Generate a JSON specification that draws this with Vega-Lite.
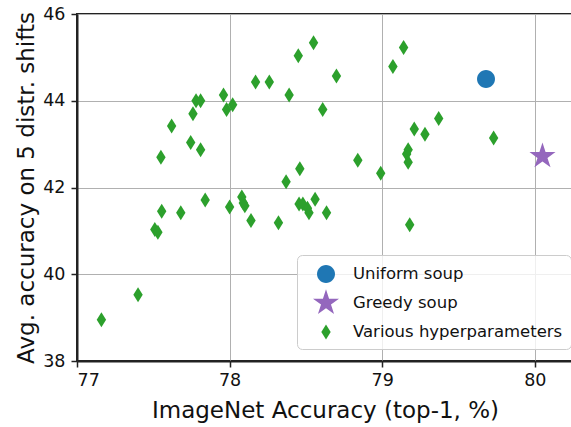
{
  "$schema": "https://vega.github.io/schema/vega-lite/v6.json",
  "width": 496,
  "height": 347,
  "autosize": {"type": "none"},
  "padding": {"left": 77, "top": 14, "right": 0, "bottom": 66},
  "config": {
    "view": {"stroke": "#222222", "strokeWidth": 2},
    "font": "DejaVu Sans",
    "axis": {
      "gridColor": "#b0b0b0",
      "gridWidth": 1,
      "domainColor": "#222222",
      "domainWidth": 2,
      "tickColor": "#222222",
      "tickSize": 6,
      "tickWidth": 1.5,
      "labelFontSize": 17.5,
      "labelColor": "#111111",
      "titleFontSize": 23,
      "titleFontWeight": "normal",
      "titleColor": "#111111"
    }
  },
  "data": {
    "values": [
      {"x": 77.16, "y": 38.95, "series": "Various hyperparameters"},
      {"x": 77.40, "y": 39.53, "series": "Various hyperparameters"},
      {"x": 77.51, "y": 41.03, "series": "Various hyperparameters"},
      {"x": 77.53, "y": 40.97, "series": "Various hyperparameters"},
      {"x": 77.555, "y": 41.45, "series": "Various hyperparameters"},
      {"x": 77.68, "y": 41.42, "series": "Various hyperparameters"},
      {"x": 77.84, "y": 41.71, "series": "Various hyperparameters"},
      {"x": 78.0, "y": 41.55, "series": "Various hyperparameters"},
      {"x": 78.08, "y": 41.78, "series": "Various hyperparameters"},
      {"x": 78.09, "y": 41.64, "series": "Various hyperparameters"},
      {"x": 78.10, "y": 41.58, "series": "Various hyperparameters"},
      {"x": 78.14, "y": 41.24, "series": "Various hyperparameters"},
      {"x": 78.32, "y": 41.19, "series": "Various hyperparameters"},
      {"x": 78.37, "y": 42.13, "series": "Various hyperparameters"},
      {"x": 78.46, "y": 42.43, "series": "Various hyperparameters"},
      {"x": 78.455, "y": 41.62, "series": "Various hyperparameters"},
      {"x": 78.48, "y": 41.62, "series": "Various hyperparameters"},
      {"x": 78.51, "y": 41.52, "series": "Various hyperparameters"},
      {"x": 78.52, "y": 41.42, "series": "Various hyperparameters"},
      {"x": 78.56, "y": 41.73, "series": "Various hyperparameters"},
      {"x": 78.635, "y": 41.42, "series": "Various hyperparameters"},
      {"x": 78.99, "y": 42.33, "series": "Various hyperparameters"},
      {"x": 79.18, "y": 41.14, "series": "Various hyperparameters"},
      {"x": 78.45, "y": 45.04, "series": "Various hyperparameters"},
      {"x": 78.55, "y": 45.34, "series": "Various hyperparameters"},
      {"x": 78.70, "y": 44.57, "series": "Various hyperparameters"},
      {"x": 78.61, "y": 43.80, "series": "Various hyperparameters"},
      {"x": 78.84, "y": 42.63, "series": "Various hyperparameters"},
      {"x": 79.14, "y": 45.23, "series": "Various hyperparameters"},
      {"x": 79.07, "y": 44.79, "series": "Various hyperparameters"},
      {"x": 79.21, "y": 43.35, "series": "Various hyperparameters"},
      {"x": 79.28, "y": 43.23, "series": "Various hyperparameters"},
      {"x": 79.37, "y": 43.59, "series": "Various hyperparameters"},
      {"x": 79.17, "y": 42.87, "series": "Various hyperparameters"},
      {"x": 79.16, "y": 42.77, "series": "Various hyperparameters"},
      {"x": 79.17, "y": 42.58, "series": "Various hyperparameters"},
      {"x": 79.73, "y": 43.14, "series": "Various hyperparameters"},
      {"x": 77.55, "y": 42.70, "series": "Various hyperparameters"},
      {"x": 77.62, "y": 43.42, "series": "Various hyperparameters"},
      {"x": 77.745, "y": 43.04, "series": "Various hyperparameters"},
      {"x": 77.81, "y": 42.87, "series": "Various hyperparameters"},
      {"x": 77.76, "y": 43.70, "series": "Various hyperparameters"},
      {"x": 77.78, "y": 44.0, "series": "Various hyperparameters"},
      {"x": 77.81, "y": 44.0, "series": "Various hyperparameters"},
      {"x": 77.96, "y": 44.13, "series": "Various hyperparameters"},
      {"x": 77.98, "y": 43.80, "series": "Various hyperparameters"},
      {"x": 78.02, "y": 43.91, "series": "Various hyperparameters"},
      {"x": 78.17, "y": 44.43, "series": "Various hyperparameters"},
      {"x": 78.26, "y": 44.43, "series": "Various hyperparameters"},
      {"x": 78.39, "y": 44.13, "series": "Various hyperparameters"},
      {"x": 79.68, "y": 44.50, "series": "Uniform soup"},
      {"x": 80.05, "y": 42.72, "series": "Greedy soup"}
    ]
  },
  "mark": {"type": "point", "filled": true, "opacity": 1, "size": 400},
  "encoding": {
    "x": {
      "field": "x", "type": "quantitative",
      "scale": {"domain": [77, 80.25], "zero": false, "nice": false},
      "axis": {"values": [77, 78, 79, 80], "title": "ImageNet Accuracy (top-1, %)", "titlePadding": 11, "labelPadding": 4}
    },
    "y": {
      "field": "y", "type": "quantitative",
      "scale": {"domain": [38, 46], "zero": false, "nice": false},
      "axis": {"values": [38, 40, 42, 44, 46], "title": "Avg. accuracy on 5 distr. shifts", "titlePadding": 4, "labelPadding": 6}
    },
    "color": {
      "field": "series", "type": "nominal",
      "scale": {"domain": ["Uniform soup", "Greedy soup", "Various hyperparameters"], "range": ["#1f77b4", "#9467bd", "#2ca02c"]},
      "legend": {
        "title": null, "orient": "none", "legendX": 220, "legendY": 241,
        "labelFontSize": 16.5, "labelColor": "#111111", "labelLimit": 400,
        "symbolSize": 400, "symbolOffset": 10,
        "strokeColor": "#cccccc", "fillColor": "rgba(255,255,255,0.8)", "cornerRadius": 5,
        "padding": 8, "rowPadding": 6, "labelOffset": 16
      }
    },
    "shape": {
      "field": "series", "type": "nominal",
      "scale": {"domain": ["Uniform soup", "Greedy soup", "Various hyperparameters"], "range": ["M-0.9,0A0.9,0.9,0,1,1,0.9,0A0.9,0.9,0,1,1,-0.9,0Z", "M0,-1.37L0.3076,-0.4233L1.3029,-0.4233L0.4977,0.1617L0.8056,1.1083L0,0.5233L-0.8056,1.1083L-0.4977,0.1617L-1.3029,-0.4233L-0.3076,-0.4233Z", "M0,-0.75L0.47,0L0,0.75L-0.47,0Z"]}
    }
  }
}
